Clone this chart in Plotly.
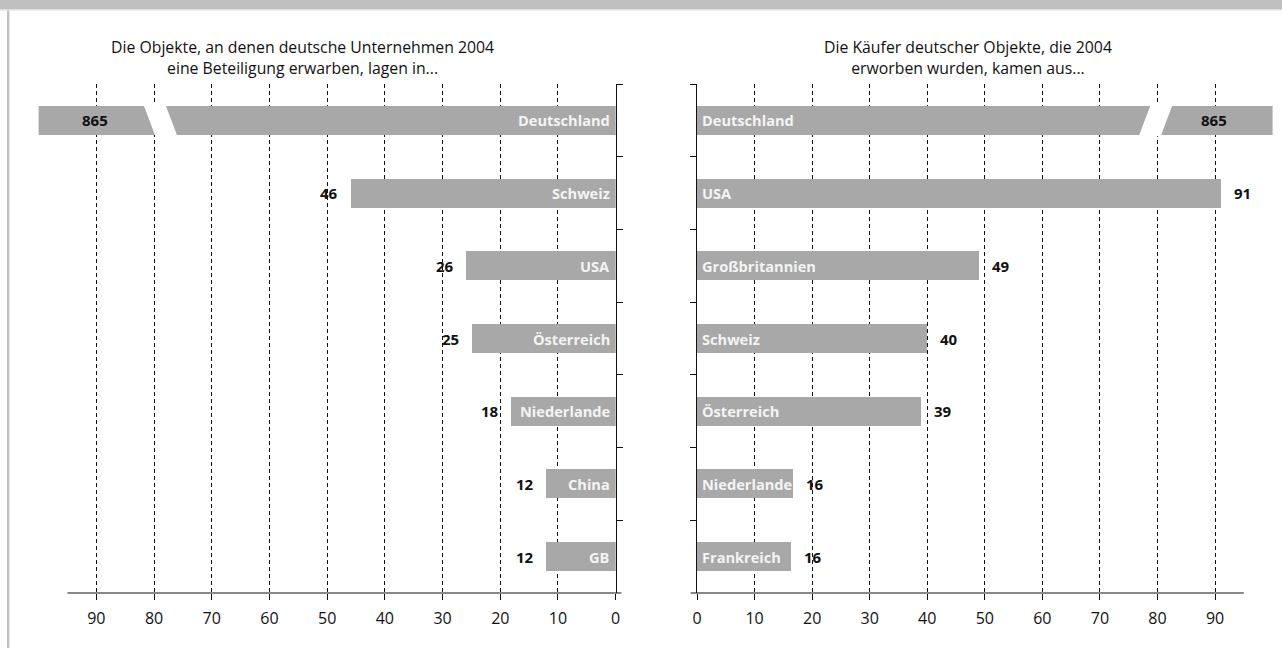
import plotly.graph_objects as go

# ---------------- data ----------------
left_title = ["Die Objekte, an denen deutsche Unternehmen 2004",
              "eine Beteiligung erwarben, lagen in..."]
right_title = ["Die Käufer deutscher Objekte, die 2004",
               "erworben wurden, kamen aus..."]

left_categories = ["Deutschland", "Schweiz", "USA", "Österreich", "Niederlande", "China", "GB"]
left_values = [865, 46, 26, 25, 18.2, 12.1, 12.1]
left_labels = ["865", "46", "26", "25", "18", "12", "12"]

right_categories = ["Deutschland", "USA", "Großbritannien", "Schweiz", "Österreich", "Niederlande", "Frankreich"]
right_values = [865, 91, 49, 40, 39, 16.6, 16.4]
right_labels = ["865", "91", "49", "40", "39", "16", "16"]

tick_values = [0, 10, 20, 30, 40, 50, 60, 70, 80, 90]
axis_max = 100          # bars longer than this are shown broken
axis_line_end = 95
left_break = 78.9
right_break = 79.7

# ---------------- style ----------------
W, H = 1282, 648
FONT = "Open Sans"
BAR = "#a8a8a8"
BAR_TEXT = "#f4f4f4"
XD1 = [38.6 / W, 615.7 / W]
XD2 = [697.0 / W, 1272.6 / W]
YD = [55.0 / H, 564.0 / H]


def lx(v):  # left axis value -> paper x (reversed range)
    return XD1[0] + (XD1[1] - XD1[0]) * (axis_max - v) / axis_max


def rx(v):  # right axis value -> paper x
    return XD2[0] + (XD2[1] - XD2[0]) * v / axis_max


fig = go.Figure()
fig.add_trace(go.Bar(x=left_values, y=left_categories, orientation="h",
                     marker=dict(color=BAR, line=dict(width=0)), width=0.4,
                     xaxis="x", yaxis="y", hoverinfo="skip"))
fig.add_trace(go.Bar(x=right_values, y=right_categories, orientation="h",
                     marker=dict(color=BAR, line=dict(width=0)), width=0.4,
                     xaxis="x2", yaxis="y2", hoverinfo="skip"))

xcommon = dict(tickvals=tick_values, ticks="outside", ticklen=6, tickcolor="#111",
               showline=False, zeroline=False, showgrid=True, gridcolor="#111",
               gridwidth=1, griddash="4px,3px", ticklabelstandoff=5,
               automargin=False,
               tickfont=dict(family=FONT, size=16, color="#111"))
ycommon = dict(domain=YD, type="category", categoryorder="array",
               showticklabels=False, showgrid=False, showline=True,
               linecolor="#111", linewidth=1, ticks="outside", ticklen=6,
               tickcolor="#111", tickson="boundaries", automargin=False)
fig.update_layout(
    xaxis=dict(domain=XD1, range=[axis_max, 0], anchor="y", **xcommon),
    xaxis2=dict(domain=XD2, range=[0, axis_max], anchor="y2", **xcommon),
    yaxis=dict(anchor="x", side="right", categoryarray=left_categories,
               range=[len(left_categories) - 0.5, -0.5], **ycommon),
    yaxis2=dict(anchor="x2", side="left", categoryarray=right_categories,
                range=[len(right_categories) - 0.5, -0.5], **ycommon),
    width=W, height=H, autosize=False,
    margin=dict(l=0, r=0, t=0, b=0, pad=0, autoexpand=False),
    paper_bgcolor="white", plot_bgcolor="white",
    showlegend=False, bargap=0,
)

shapes = []
# frame decoration
shapes.append(dict(type="rect", xref="paper", yref="paper", x0=0, x1=1,
                   y0=1 - 9.5 / H, y1=1, fillcolor="#c0c0c0", line=dict(width=0), layer="above"))
shapes.append(dict(type="rect", xref="paper", yref="paper", x0=0, x1=1,
                   y0=1 - 10.5 / H, y1=1 - 9.5 / H, fillcolor="#dedede", line=dict(width=0), layer="above"))
shapes.append(dict(type="rect", xref="paper", yref="paper", x0=7 / W, x1=9.3 / W,
                   y0=0, y1=1 - 10.5 / H, fillcolor="#c0c0c0", line=dict(width=0), layer="above"))
# bottom axis lines
shapes.append(dict(type="line", xref="paper", yref="paper", x0=lx(axis_line_end), x1=lx(-1),
                   y0=YD[0], y1=YD[0], line=dict(color="#111", width=1), layer="above"))
shapes.append(dict(type="line", xref="paper", yref="paper", x0=rx(-1.1), x1=rx(axis_line_end),
                   y0=YD[0], y1=YD[0], line=dict(color="#111", width=1), layer="above"))

# break marks on the Deutschland bars (row 0)
n = len(left_categories)
row_c = 1 - 0.5 / n
hh = 0.22 / n
gap = 1.9
sl = 0.95 * 1.1
yt, yb = row_c + hh, row_c - hh
p = (f"M {left_break + gap + sl} {yt} L {left_break - gap + sl} {yt} "
     f"L {left_break - gap - sl} {yb} L {left_break + gap - sl} {yb} Z")
shapes.append(dict(type="path", xref="x", yref="y domain", path=p,
                   fillcolor="white", line=dict(width=0), layer="above"))
p = (f"M {right_break - gap + sl} {yt} L {right_break + gap + sl} {yt} "
     f"L {right_break + gap - sl} {yb} L {right_break - gap - sl} {yb} Z")
shapes.append(dict(type="path", xref="x2", yref="y2 domain", path=p,
                   fillcolor="white", line=dict(width=0), layer="above"))
fig.update_layout(shapes=shapes)

ann = []
# titles
ann.append(dict(text="<br>".join(left_title), x=302 / W, y=1 - 58 / H))
ann.append(dict(text="<br>".join(right_title), x=968 / W, y=1 - 58 / H))
for a in ann:
    a.update(xref="paper", yref="paper", xanchor="center", yanchor="middle",
             showarrow=False, align="center",
             font=dict(family=FONT, size=15.8, color="#111"))

lab_font = dict(family=FONT, size=14.6, color=BAR_TEXT)
val_font = dict(family=FONT, size=15, color="#111")
for cat, v, lab in zip(left_categories, left_values, left_labels):
    ann.append(dict(x=0, y=cat, xref="x", yref="y", text=f"<b>{cat}</b>",
                    xanchor="right", xshift=-4, yanchor="middle",
                    showarrow=False, font=lab_font))
    if v > axis_max:
        ann.append(dict(x=(left_break + axis_max) / 2 + 0.8, y=cat, xref="x", yref="y",
                        text=f"<b>{lab}</b>", xanchor="center", yanchor="middle",
                        showarrow=False, font=val_font))
    else:
        ann.append(dict(x=v, y=cat, xref="x", yref="y", text=f"<b>{lab}</b>",
                        xanchor="right", xshift=-10, yanchor="middle",
                        showarrow=False, font=val_font))
for cat, v, lab in zip(right_categories, right_values, right_labels):
    ann.append(dict(x=0, y=cat, xref="x2", yref="y2", text=f"<b>{cat}</b>",
                    xanchor="left", xshift=3, yanchor="middle",
                    showarrow=False, font=lab_font))
    if v > axis_max:
        ann.append(dict(x=(right_break + axis_max) / 2, y=cat, xref="x2", yref="y2",
                        text=f"<b>{lab}</b>", xanchor="center", yanchor="middle",
                        showarrow=False, font=val_font))
    else:
        ann.append(dict(x=v, y=cat, xref="x2", yref="y2", text=f"<b>{lab}</b>",
                        xanchor="left", xshift=11, yanchor="middle",
                        showarrow=False, font=val_font))
fig.update_layout(annotations=ann)

fig.write_html("out.html", config={"responsive": False})
